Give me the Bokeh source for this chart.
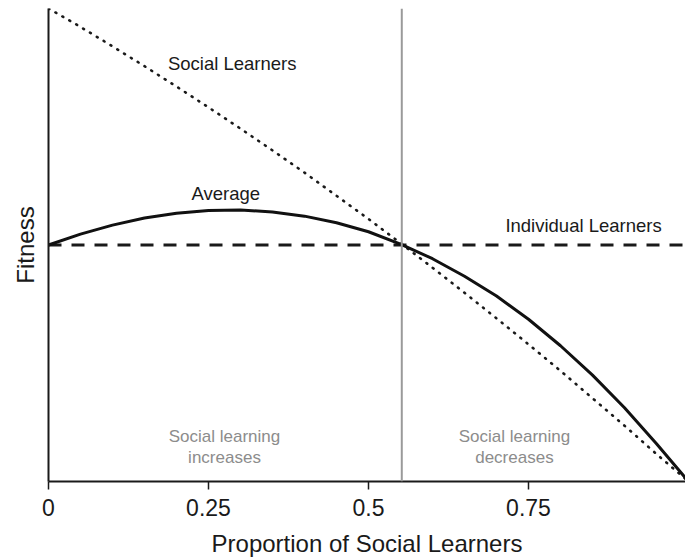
from bokeh.plotting import figure
from bokeh.models import Range1d, FixedTicker, Span, Label
from bokeh.embed import file_html
from bokeh.resources import INLINE

# ---- data ----
proportion = [0.00, 0.05, 0.10, 0.15, 0.20, 0.25, 0.30, 0.35, 0.40, 0.45, 0.50,
              0.55, 0.60, 0.65, 0.70, 0.75, 0.80, 0.85, 0.90, 0.95, 1.00]
social_fitness = [1.000, 0.961, 0.920, 0.878, 0.835, 0.791, 0.746, 0.700, 0.653, 0.604, 0.555,
                  0.504, 0.452, 0.399, 0.345, 0.290, 0.234, 0.176, 0.118, 0.058, 0.000]
average_fitness = [0.500, 0.523, 0.542, 0.557, 0.567, 0.573, 0.574, 0.570, 0.561, 0.547, 0.528,
                   0.502, 0.471, 0.434, 0.392, 0.343, 0.287, 0.225, 0.156, 0.080, 0.000]
individual_x = [0.0, 1.0]
individual_fitness = [0.5, 0.5]
equilibrium = 0.552

x_ticks = [0, 0.25, 0.5, 0.75, 1]
x_tick_labels = ["0", "0.25", "0.5", "0.75", "1"]

FONT = "Liberation Sans"

p = figure(width=685, height=559, output_backend="svg", toolbar_location=None,
           x_range=Range1d(0, 0.9953), y_range=Range1d(0, 1),
           min_border_left=48, min_border_right=0, min_border_top=8, min_border_bottom=78)
p.outline_line_color = None
p.xgrid.visible = False
p.ygrid.visible = False
p.background_fill_color = "white"

# vertical equilibrium line
p.add_layout(Span(location=equilibrium, dimension="height", line_color="#9a9a9a", line_width=2))

# lines
p.line(individual_x, individual_fitness, line_color="#1a1a1a", line_width=3, line_dash="13 10")
p.line(proportion, social_fitness, line_color="#1a1a1a", line_width=2.6, line_dash="1 7",
       line_cap="round")
p.line(proportion, average_fitness, line_color="#111111", line_width=3)

# labels
def add_label(x, y, text, color="#1a1a1a", size="18.5px"):
    p.add_layout(Label(x=x, y=y, text=text, text_align="center", text_baseline="middle",
                       text_font=FONT, text_font_size=size, text_color=color))

add_label(0.287, 0.884, "Social Learners")
add_label(0.277, 0.609, "Average")
add_label(0.836, 0.542, "Individual Learners")
add_label(0.275, 0.095, "Social learning", color="#8c8c8c", size="17px")
add_label(0.275, 0.050, "increases", color="#8c8c8c", size="17px")
add_label(0.728, 0.095, "Social learning", color="#8c8c8c", size="17px")
add_label(0.728, 0.050, "decreases", color="#8c8c8c", size="17px")

# x axis
xa = p.xaxis[0]
xa.ticker = FixedTicker(ticks=x_ticks)
xa.major_label_overrides = {t: l for t, l in zip(x_ticks, x_tick_labels)}
xa.axis_label = "Proportion of Social Learners"
xa.axis_label_text_font = FONT
xa.axis_label_text_font_size = "24px"
xa.axis_label_text_font_style = "normal"
xa.axis_label_text_color = "#1a1a1a"
xa.axis_label_standoff = 11
xa.major_label_text_font = FONT
xa.major_label_text_font_size = "23px"
xa.major_label_text_color = "#1a1a1a"
xa.major_label_standoff = 9
xa.axis_line_width = 2
xa.axis_line_color = "#1a1a1a"
xa.major_tick_line_width = 1.5
xa.major_tick_line_color = "#1a1a1a"
xa.major_tick_out = 8
xa.major_tick_in = 0
xa.minor_tick_line_color = None

# y axis
ya = p.yaxis[0]
ya.ticker = FixedTicker(ticks=[])
ya.axis_label = "Fitness"
ya.axis_label_text_font = FONT
ya.axis_label_text_font_size = "24px"
ya.axis_label_text_font_style = "normal"
ya.axis_label_text_color = "#1a1a1a"
ya.axis_label_standoff = 10
ya.axis_line_width = 2
ya.axis_line_color = "#1a1a1a"
ya.major_tick_line_color = None
ya.minor_tick_line_color = None
ya.major_label_text_font_size = "0px"

open("out.html", "w").write(file_html(p, INLINE))
